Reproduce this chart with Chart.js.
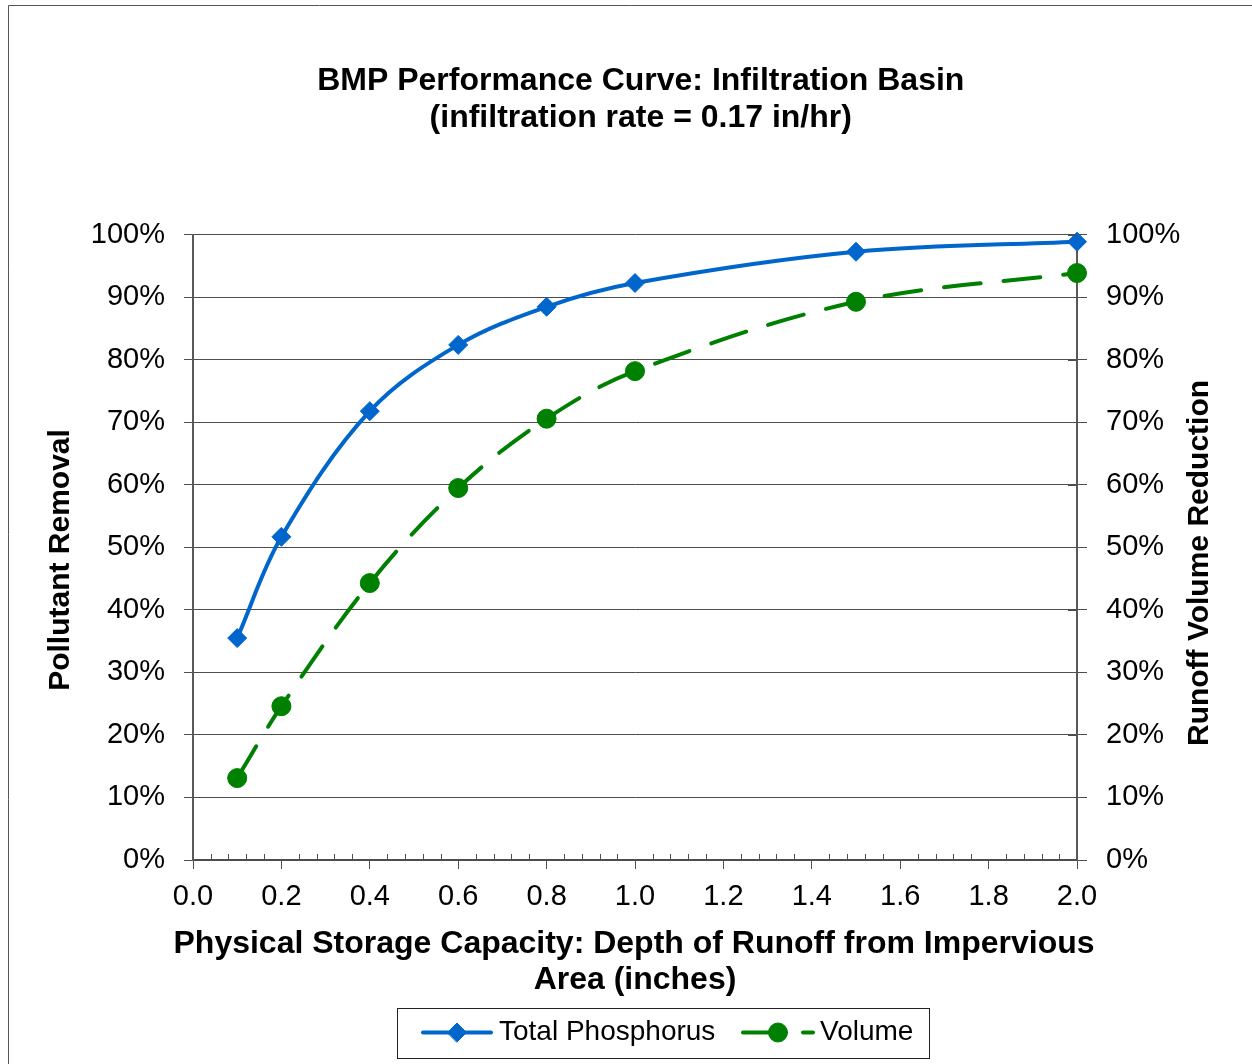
<!DOCTYPE html>
<html>
<head>
<meta charset="utf-8">
<title>BMP Performance Curve: Infiltration Basin</title>
<script src="https://cdn.jsdelivr.net/npm/chart.js@4.4.1/dist/chart.umd.min.js"></script>
<style>
  html, body { margin: 0; padding: 0; background: #fff; }
  #wrap { width: 1252px; height: 1064px; }
</style>
</head>
<body>
<div id="wrap"><canvas id="bmp-chart" width="1252" height="1064"></canvas></div>
<script>
// values
const depths = [0.1, 0.2, 0.4, 0.6, 0.8, 1.0, 1.5, 2.0];
const phosphorusRemoval = [35.5, 51.7, 71.8, 82.4, 88.5, 92.3, 97.3, 98.9];
const volumeReduction = [13.1, 24.6, 44.3, 59.5, 70.6, 78.2, 89.3, 93.9];

const titleLines = ["BMP Performance Curve: Infiltration Basin", "(infiltration rate = 0.17 in/hr)"];
const xTitleLines = ["Physical Storage Capacity: Depth of Runoff from Impervious", "Area (inches)"];
const leftTitle = "Pollutant Removal";
const rightTitle = "Runoff Volume Reduction";
const seriesNames = ["Total Phosphorus", "Volume"];

const FONT = "'Liberation Sans', Arial, sans-serif";
const BLUE = "#0066CC";
const GREEN = "#008000";
const GRID = "#4d4d4d";
const VOLUME_DASH = [37, 23];

function toPoints(ys) {
  return depths.map((d, i) => ({ x: d, y: ys[i] }));
}

// frame, minor ticks, axis titles and the boxed legend
const extras = {
  id: "extras",
  beforeDraw(chart) {
    const { ctx, width, height } = chart;
    ctx.save();
    ctx.fillStyle = "#fff";
    ctx.fillRect(0, 0, width, height);
    ctx.strokeStyle = "#555";
    ctx.lineWidth = 1;
    ctx.beginPath();
    ctx.moveTo(8.5, height);
    ctx.lineTo(8.5, 5.5);
    ctx.lineTo(width, 5.5);
    ctx.stroke();
    ctx.restore();
  },
  afterDraw(chart) {
    const { ctx, chartArea } = chart;
    const x = chart.scales.x;
    const y2 = chart.scales.y2;
    ctx.save();

    // minor ticks (inside) on the x axis, inner half of right axis ticks
    ctx.strokeStyle = GRID;
    ctx.lineWidth = 1;
    ctx.beginPath();
    for (let i = 1; i < 50; i++) {
      if (i % 5 === 0) continue;
      const px = Math.round(x.getPixelForValue(i * 0.04)) + 0.5;
      ctx.moveTo(px, chartArea.bottom - 6);
      ctx.lineTo(px, chartArea.bottom);
    }
    y2.ticks.forEach((t) => {
      const py = Math.round(y2.getPixelForValue(t.value)) + 0.5;
      ctx.moveTo(chartArea.right - 9, py);
      ctx.lineTo(chartArea.right, py);
    });
    ctx.stroke();

    // x axis title, two lines, not squeezed to the axis width
    ctx.fillStyle = "#000";
    ctx.textAlign = "center";
    ctx.textBaseline = "middle";
    ctx.font = "bold 32px " + FONT;
    ctx.fillText(xTitleLines[0], 634, 944);
    ctx.fillText(xTitleLines[1], 635, 980);

    // vertical axis titles (both read bottom to top)
    ctx.font = "bold 30px " + FONT;
    [[61, 560, leftTitle], [1200, 563, rightTitle]].forEach(([tx, ty, txt]) => {
      ctx.save();
      ctx.translate(tx, ty);
      ctx.rotate(-Math.PI / 2);
      ctx.fillText(txt, 0, 0);
      ctx.restore();
    });

    // legend
    const ly = 1032.5;
    ctx.strokeStyle = "#222";
    ctx.lineWidth = 1;
    ctx.strokeRect(397.5, 1008.5, 532, 50);

    ctx.lineWidth = 4;
    ctx.lineCap = "round";
    ctx.strokeStyle = BLUE;
    ctx.beginPath();
    ctx.moveTo(423, ly);
    ctx.lineTo(491, ly);
    ctx.stroke();
    ctx.fillStyle = BLUE;
    ctx.lineWidth = 1;
    Chart.helpers.drawPoint(ctx, { pointStyle: "rectRot", radius: 9.5, borderWidth: 1 }, 457, ly);

    ctx.strokeStyle = GREEN;
    ctx.lineWidth = 4;
    ctx.setLineDash(VOLUME_DASH);
    ctx.beginPath();
    ctx.moveTo(743, ly);
    ctx.lineTo(813, ly);
    ctx.stroke();
    ctx.setLineDash([]);
    ctx.fillStyle = GREEN;
    ctx.lineWidth = 1;
    Chart.helpers.drawPoint(ctx, { pointStyle: "circle", radius: 9.5, borderWidth: 1 }, 778, ly);

    ctx.fillStyle = "#000";
    ctx.font = "28px " + FONT;
    ctx.textAlign = "left";
    ctx.fillText(seriesNames[0], 499, ly);
    ctx.fillText(seriesNames[1], 820, ly);

    ctx.restore();
  },
};

const tickFont = { family: FONT, size: 29 };

new Chart(document.getElementById("bmp-chart"), {
  type: "line",
  data: {
    datasets: [
      {
        label: seriesNames[0],
        data: toPoints(phosphorusRemoval),
        yAxisID: "y",
        borderColor: BLUE,
        backgroundColor: BLUE,
        borderWidth: 4,
        pointStyle: "rectRot",
        pointRadius: 9.5,
        pointBorderWidth: 1,
        tension: 0.35,
        clip: false,
      },
      {
        label: seriesNames[1],
        data: toPoints(volumeReduction),
        yAxisID: "y2",
        borderColor: GREEN,
        backgroundColor: GREEN,
        borderWidth: 4,
        borderDash: VOLUME_DASH,
        borderCapStyle: "round",
        pointStyle: "circle",
        pointRadius: 9.5,
        pointBorderWidth: 1,
        tension: 0.35,
        clip: false,
      },
    ],
  },
  options: {
    responsive: false,
    animation: false,
    devicePixelRatio: 1,
    layout: { padding: { left: 63, right: 33.5, top: 0, bottom: 65.5 } },
    plugins: {
      legend: { display: false },
      tooltip: { enabled: false },
      title: {
        display: true,
        text: titleLines,
        color: "#000",
        font: { family: FONT, size: 32, weight: "bold", lineHeight: 1.17 },
        padding: { top: 62.5, bottom: 97.5 },
      },
    },
    scales: {
      x: {
        type: "linear",
        min: 0,
        max: 2,
        afterFit: (s) => { s.height = 138.5; },
        ticks: {
          stepSize: 0.2,
          callback: (v) => v.toFixed(1),
          color: "#000",
          font: tickFont,
          padding: 11,
          maxRotation: 0,
          autoSkip: false,
        },
        grid: { drawOnChartArea: false, tickLength: 9, color: GRID },
        border: { color: GRID, width: 1.5 },
        title: { display: false },
      },
      y: {
        position: "left",
        min: 0,
        max: 100,
        afterFit: (s) => { s.width = 130; },
        ticks: { stepSize: 10, callback: (v) => v + "%", color: "#000", font: tickFont, padding: 19 },
        grid: { color: GRID, tickLength: 9 },
        border: { color: "#595959", width: 2 },
      },
      y2: {
        position: "right",
        min: 0,
        max: 100,
        afterFit: (s) => { s.width = 141.5; },
        ticks: { stepSize: 10, callback: (v) => v + "%", color: "#000", font: tickFont, padding: 19 },
        grid: { drawOnChartArea: false, tickLength: 10, color: GRID },
        border: { color: "#595959", width: 2 },
      },
    },
  },
  plugins: [extras],
});
</script>
</body>
</html>
